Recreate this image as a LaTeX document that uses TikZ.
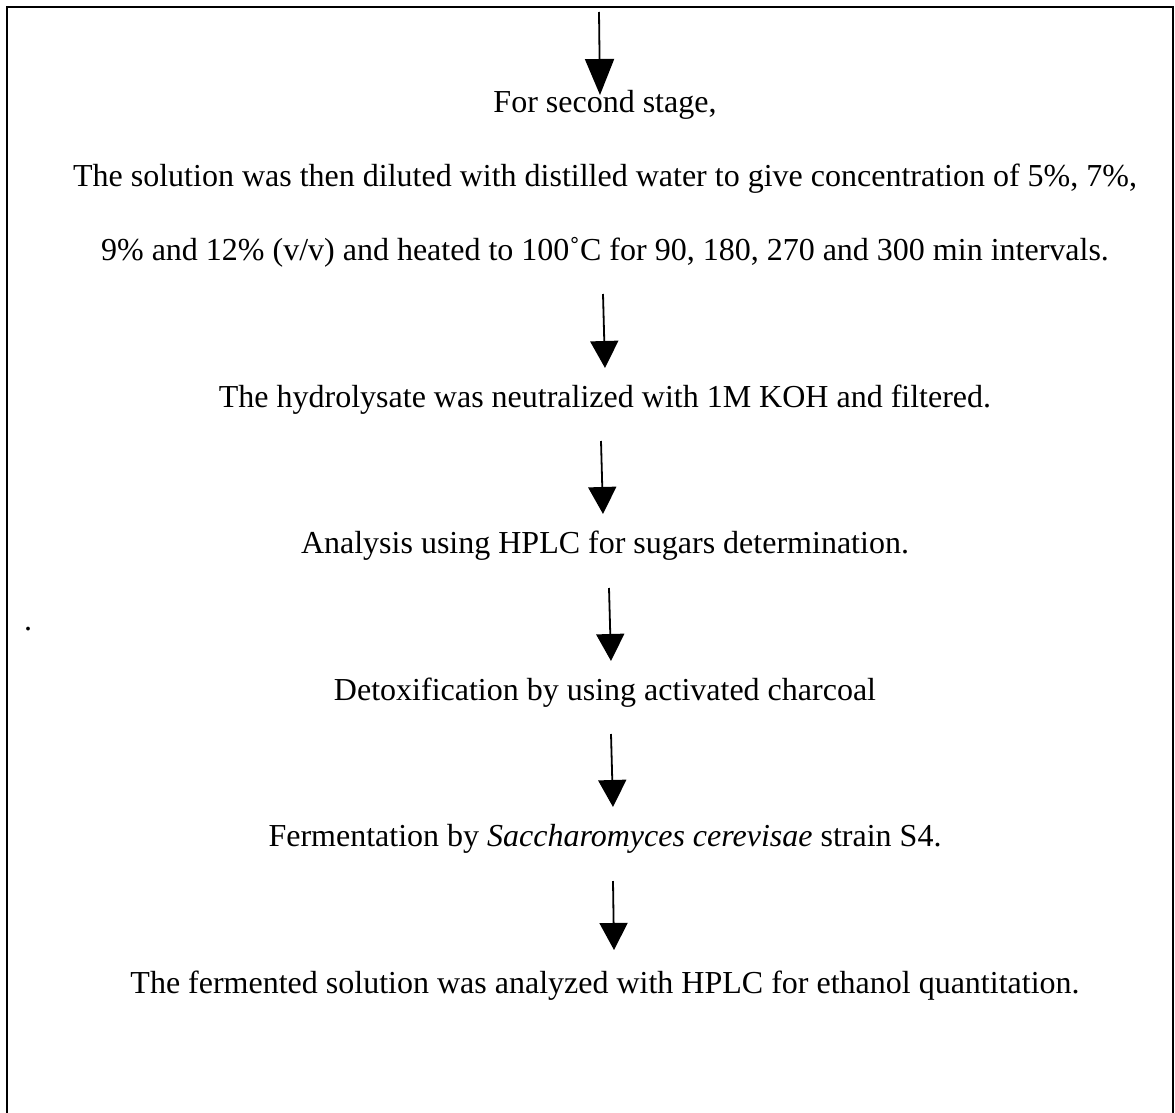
\documentclass[tikz,border=0pt]{standalone}
\usepackage{fontspec}
\setmainfont{Liberation Serif}
\usetikzlibrary{arrows.meta}
\begin{document}
\begin{tikzpicture}[x=1pt,y=-1pt,
  txt/.style={anchor=base,inner sep=0pt,font=\fontsize{32}{38}\selectfont},
  flow/.style={line width=1.8pt,-{Triangle[length=27pt,width=28pt]}},
  longflow/.style={line width=1.8pt,-{Triangle[length=36pt,width=29pt]}},
  frame/.style={line width=2pt}]
\useasboundingbox (0,0) rectangle (1175,1113);
\draw[frame] (7,1113) -- (7,7) -- (1172.5,7) -- (1172.5,1113);
% texts
\node[txt] (t1) at (605,113) {For second stage,};
\node[txt] (t2) at (605,186.5) {The solution was then diluted with distilled water to give concentration of 5\%, 7\%,};
\node[txt] (t3) at (605,260) {9\% and 12\% (v/v) and heated to 100˚C for 90, 180, 270 and 300 min intervals.};
\node[txt] (t4) at (605,407) {The hydrolysate was neutralized with 1M KOH and filtered.};
\node[txt] (t5) at (605,553.5) {Analysis using HPLC for sugars determination.};
\node[txt] (t6) at (605,700) {Detoxification by using activated charcoal};
\node[txt] (t7) at (605,846.6) {Fermentation by \textit{Saccharomyces cerevisae} strain S4.};
\node[txt] (t8) at (605,993.3) {The fermented solution was analyzed with HPLC for ethanol quantitation.};
\node[txt] (dot) at (28,630) {.};
% arrow ends
\coordinate (a1s) at (599,12);   \coordinate (a1e) at (600,95);
\coordinate (a2s) at (603,294);  \coordinate (a2e) at (605,368);
\coordinate (a3s) at (601,441);  \coordinate (a3e) at (603,514);
\coordinate (a4s) at (609,588);  \coordinate (a4e) at (611,661);
\coordinate (a5s) at (611,734);  \coordinate (a5e) at (613,807);
\coordinate (a6s) at (613,881);  \coordinate (a6e) at (614,950);
\draw[longflow] (a1s) -- (a1e);
\draw[flow] (a2s) -- (a2e);
\draw[flow] (a3s) -- (a3e);
\draw[flow] (a4s) -- (a4e);
\draw[flow] (a5s) -- (a5e);
\draw[flow] (a6s) -- (a6e);
\end{tikzpicture}
\end{document}
